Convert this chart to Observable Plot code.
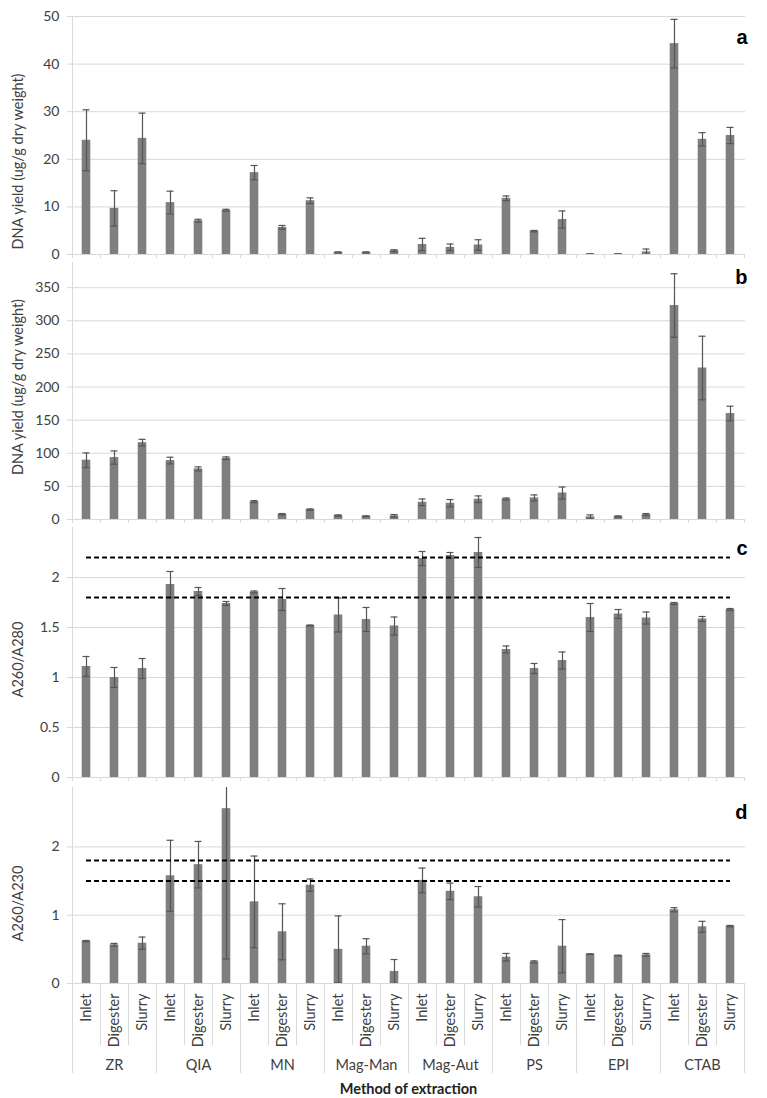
<!DOCTYPE html>
<html><head><meta charset="utf-8">
<script src="https://cdn.jsdelivr.net/npm/d3@7"></script>
<script src="https://cdn.jsdelivr.net/npm/@observablehq/plot@0.6"></script>
<style>body{margin:0;background:#fff} #chart{width:767px;background:#fff}</style>
</head><body><div id="chart"></div>
<script>
// ---- data ----
const methods = ["ZR", "QIA", "MN", "Mag-Man", "Mag-Aut", "PS", "EPI", "CTAB"];
const samples = ["Inlet", "Digester", "Slurry"];

// a: DNA yield (ug/g dry weight)
const yieldA = [24.0, 9.7, 24.4, 10.9, 7.1, 9.3, 17.2, 5.7, 11.3, 0.45, 0.45, 0.8, 2.1, 1.5, 2.0, 11.8, 4.9, 7.35, 0.1, 0.1, 0.55, 44.3, 24.2, 25.0];
const errA   = [6.4, 3.7, 5.3, 2.4, 0.3, 0.2, 1.5, 0.4, 0.6, 0.1, 0.1, 0.2, 1.3, 0.7, 1.1, 0.5, 0.15, 1.8, 0.05, 0.05, 0.6, 5.1, 1.4, 1.7];
// b: DNA yield (ug/g dry weight)
const yieldB = [89.5, 93.5, 116, 89, 76.4, 92.5, 27, 8, 15, 6, 5, 5.5, 26, 24.6, 30.6, 31, 32.6, 40, 4, 4.5, 7.5, 323, 228.7, 160];
const errB   = [11, 10, 5, 5, 3, 2, 1.5, 1, 1, 1, 0.5, 2, 5, 5.5, 5, 1.5, 4.5, 9, 3, 1, 1.5, 48, 48, 11];
// c: A260/A280
const ratioC = [1.11, 1.0, 1.09, 1.93, 1.86, 1.74, 1.855, 1.78, 1.52, 1.625, 1.58, 1.515, 2.19, 2.22, 2.25, 1.28, 1.09, 1.17, 1.60, 1.635, 1.595, 1.74, 1.585, 1.68];
const errC   = [0.1, 0.1, 0.1, 0.13, 0.04, 0.02, 0.01, 0.11, 0.005, 0.17, 0.12, 0.09, 0.07, 0.03, 0.15, 0.035, 0.05, 0.085, 0.14, 0.045, 0.06, 0.01, 0.025, 0.01];
const refC   = [2.2, 1.8];
// d: A260/A230
const ratioD = [0.62, 0.567, 0.59, 1.577, 1.74, 2.56, 1.196, 0.757, 1.44, 0.50, 0.546, 0.176, 1.51, 1.35, 1.27, 0.385, 0.317, 0.546, 0.43, 0.41, 0.42, 1.08, 0.83, 0.84];
const errD   = [0.01, 0.02, 0.09, 0.52, 0.34, 2.2, 0.67, 0.41, 0.09, 0.49, 0.11, 0.175, 0.18, 0.12, 0.15, 0.055, 0.015, 0.39, 0.005, 0.005, 0.02, 0.03, 0.08, 0.01];
const refD   = [1.8, 1.5];

const ticksA = [0, 10, 20, 30, 40, 50];
const ticksB = [0, 50, 100, 150, 200, 250, 300, 350];
const ticksC = [0, 0.5, 1, 1.5, 2];
const ticksD = [0, 1, 2];

// ---- layout ----
const rows = methods.flatMap((m) => samples.map((s) => ({method: m, sample: s, key: m + "|" + s})));
const keys = rows.map((r) => r.key);
const W = 767, ML = 71, MR = 22;
const BW = (W - ML - MR) / keys.length;
const grid = "#d9d9d9";
const txt = "#404040";
const font = "Lato, 'Open Sans', sans-serif";

function panel(o) {
  const data = rows.map((r, i) => ({...r, v: o.values[i], e: o.errors[i]}));
  const plotH = o.height - o.marginTop - o.marginBottom;
  const marks = [
    Plot.gridY(o.ticks, {stroke: grid, strokeOpacity: 1}),
    Plot.axisY(o.ticks, {tickSize: 4, tickPadding: 8, stroke: grid, strokeOpacity: 1, fill: txt, label: null, fontSize: 14, tickFormat: (d) => String(d)}),
    Plot.ruleY([0], {stroke: grid}),
    Plot.ruleX([keys[0]], {x: (d) => d, dx: -BW / 2, stroke: grid}),
    Plot.barY(data, {x: "key", y: "v", fill: "#7f7f7f", insetLeft: 9.7, insetRight: 9.7}),
    Plot.ruleX(data, {x: "key", y1: (d) => d.v - d.e, y2: (d) => d.v + d.e, stroke: "#555", strokeWidth: 1.2, clip: true}),
    Plot.tickY(data, {x: "key", y: (d) => d.v + d.e, stroke: "#555", strokeWidth: 1.2, insetLeft: 10.5, insetRight: 10.5, clip: true}),
    Plot.tickY(data, {x: "key", y: (d) => d.v - d.e, stroke: "#555", strokeWidth: 1.2, insetLeft: 10.5, insetRight: 10.5, clip: true}),
    Plot.text([o.label], {text: (d) => d, frameAnchor: "left", dx: 18 - ML, dy: o.labelDy, rotate: -90, fill: txt, fontSize: 14.5, textAnchor: "middle"}),
    Plot.text([o.letter], {text: (d) => d, frameAnchor: "top-right", dx: 2, dy: o.letterDy, textAnchor: "end", lineAnchor: "middle", fontWeight: "bold", fontSize: 20, fontFamily: "'Liberation Sans', Arial, sans-serif", fill: "black"})
  ];
  if (o.refs) {
    marks.push(Plot.ruleY(o.refs, {x1: () => keys[0], x2: () => keys[keys.length - 1], insetLeft: BW / 2, insetRight: BW / 2, stroke: "black", strokeWidth: 2, strokeDasharray: "5,3"}));
  }
  if (!o.bottom) {
    marks.push(Plot.ruleX(keys, {x: (d) => d, dx: -BW / 2, insetTop: plotH, insetBottom: -4, stroke: grid}));
    marks.push(Plot.ruleX([keys[keys.length - 1]], {x: (d) => d, dx: BW / 2, insetTop: plotH, insetBottom: -4, stroke: grid}));
  } else {
    const starts = methods.map((m) => m + "|" + samples[0]);
    const inner = keys.filter((k) => !starts.includes(k));
    marks.push(Plot.ruleX(inner, {x: (d) => d, dx: -BW / 2, insetTop: plotH, insetBottom: -62, stroke: grid}));
    marks.push(Plot.ruleX(starts, {x: (d) => d, dx: -BW / 2, insetTop: plotH, insetBottom: -90, stroke: grid}));
    marks.push(Plot.ruleX([keys[keys.length - 1]], {x: (d) => d, dx: BW / 2, insetTop: plotH, insetBottom: -90, stroke: grid}));
    marks.push(Plot.text(rows, {x: "key", text: "sample", frameAnchor: "bottom", dy: 10, rotate: -90, textAnchor: "end", lineAnchor: "middle", fill: txt, fontSize: 14.5}));
    marks.push(Plot.text(methods, {x: (m) => m + "|" + samples[1], text: (m) => m, frameAnchor: "bottom", dy: 82, lineAnchor: "middle", fill: txt, fontSize: 14.5}));
    marks.push(Plot.text(["Method of extraction"], {text: (d) => d, frameAnchor: "bottom", dy: 106, lineAnchor: "middle", fontWeight: "bold", fontSize: 14.5, fill: "#222"}));
  }
  return Plot.plot({
    width: W, height: o.height,
    marginLeft: ML, marginRight: MR, marginTop: o.marginTop, marginBottom: o.marginBottom,
    style: {fontFamily: font, fontSize: "13px", background: "transparent", color: txt, overflow: "visible"},
    x: {domain: keys, padding: 0, axis: null},
    y: {domain: o.domain, axis: null},
    marks
  });
}

const chart = document.getElementById("chart");
chart.append(panel({values: yieldA, errors: errA, domain: [0, 50], ticks: ticksA, label: "DNA yield (ug/g dry weight)", letter: "a", letterDy: 21, labelDy: 26, height: 258, marginTop: 16, marginBottom: 4}));
chart.append(panel({values: yieldB, errors: errB, domain: [0, 388], ticks: ticksB, label: "DNA yield (ug/g dry weight)", letter: "b", letterDy: 15, labelDy: -4, height: 265, marginTop: 4, marginBottom: 4}));
chart.append(panel({values: ratioC, errors: errC, domain: [0, 2.5], ticks: ticksC, label: "A260/A280", letter: "c", letterDy: 21, labelDy: 7, refs: refC, height: 258, marginTop: 4, marginBottom: 4}));
chart.append(panel({values: ratioD, errors: errD, domain: [0, 2.87], ticks: ticksD, label: "A260/A230", letter: "d", letterDy: 25, labelDy: 18, refs: refD, height: 317, marginTop: 6, marginBottom: 115, bottom: true}));
</script>
</body></html>
